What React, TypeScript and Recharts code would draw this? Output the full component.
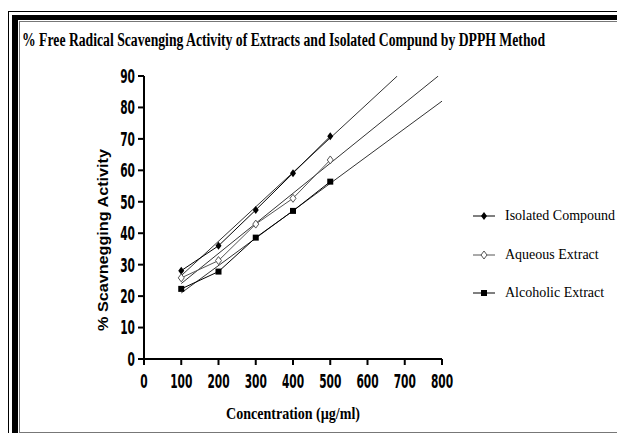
import { ComposedChart, Line, XAxis, YAxis, Label } from 'recharts';

const xTicks = [0, 100, 200, 300, 400, 500, 600, 700, 800];
const yTicks = [0, 10, 20, 30, 40, 50, 60, 70, 80, 90];

const concentrations = [100, 200, 300, 400, 500];
const isolatedValues = [28.1, 36.0, 47.4, 59.1, 70.8];
const aqueousValues = [25.8, 31.3, 42.9, 51.1, 63.3];
const alcoholicValues = [22.3, 27.8, 38.6, 47.1, 56.4];

// straight trend lines: start and end
const isolatedFit = { x: [100, 680], y: [26.5, 90] };
const aqueousFit = { x: [100, 790], y: [24.0, 90] };
const alcoholicFit = { x: [100, 800], y: [21.0, 82] };

const SERIES = [
  { name: 'Isolated Compound', values: isolatedValues, fit: isolatedFit, marker: 'diamond', color: '#000' },
  { name: 'Aqueous Extract', values: aqueousValues, fit: aqueousFit, marker: 'hollow', color: '#555' },
  { name: 'Alcoholic Extract', values: alcoholicValues, fit: alcoholicFit, marker: 'square', color: '#000' },
];

const toPoints = (xs: number[], ys: number[]) => xs.map((x, i) => ({ x, y: ys[i] }));

function Marker({ kind, cx, cy }: { kind: string; cx: number; cy: number }) {
  if (kind === 'square') return <rect x={cx - 3} y={cy - 3} width={6} height={6} fill="#000" />;
  if (kind === 'hollow')
    return <path d={`M${cx},${cy - 4}L${cx + 3},${cy}L${cx},${cy + 4}L${cx - 3},${cy}Z`} fill="#fff" stroke="#555" strokeWidth={1} />;
  return <path d={`M${cx},${cy - 4}L${cx + 3},${cy}L${cx},${cy + 4}L${cx - 3},${cy}Z`} fill="#000" />;
}

const tickStyle = { fontSize: 19, fontWeight: 700, fontFamily: '"Liberation Sans Narrow", "DejaVu Sans Condensed", sans-serif' };

// narrow, tall digits like the original
function NarrowTick({ x, y, payload, textAnchor, axis }: any) {
  const label = String(payload.value);
  return (
    <text x={x} y={y} dy={axis === 'x' ? '0.72em' : '0.36em'} textAnchor={textAnchor} fill="#000"
      textLength={label.length * 7.4} lengthAdjust="spacingAndGlyphs" style={tickStyle}>
      {label}
    </text>
  );
}

function XTitle({ viewBox }: any) {
  const cx = viewBox.x + viewBox.width / 2;
  return (
    <text x={cx} y={viewBox.y + 60} textAnchor="middle" textLength={134} lengthAdjust="spacingAndGlyphs"
      style={{ fontFamily: '"Liberation Serif", serif', fontWeight: 700, fontSize: 16 }}>
      Concentration (µg/ml)
    </text>
  );
}

function YTitle() {
  return (
    <text x={0} y={0} transform="translate(108,240) rotate(-90)" textAnchor="middle" textLength={182} lengthAdjust="spacingAndGlyphs"
      style={{ fontFamily: '"Liberation Sans", Arial, sans-serif', fontWeight: 700, fontSize: 14 }}>
      % Scavnegging Activity
    </text>
  );
}

function LegendBox() {
  return (
    <div style={{ position: 'absolute', left: 471, top: 197, width: 146, fontFamily: '"Liberation Serif", serif', fontSize: 14, color: '#000' }}>
      {SERIES.map((s) => (
        <div key={s.name} style={{ display: 'flex', alignItems: 'center', height: 38.5, whiteSpace: 'nowrap' }}>
          <svg width={32} height={12} style={{ marginRight: 2 }}>
            <line x1={2} y1={6} x2={24} y2={6} stroke={s.color} strokeWidth={1} />
            <Marker kind={s.marker} cx={13} cy={6} />
          </svg>
          <span>{s.name}</span>
        </div>
      ))}
    </div>
  );
}

export default function App() {
  return (
    <div style={{ position: 'absolute', left: 0, top: 0, width: 617, height: 433, background: '#fff', overflow: 'hidden' }}>
      <div style={{ position: 'absolute', left: 8, top: 11, width: 700, height: 500, borderLeft: '1px solid #000', borderTop: '1px solid #000' }} />
      <div style={{ position: 'absolute', left: 12, top: 15, width: 700, height: 500, borderLeft: '6px solid #000', borderTop: '5px solid #000' }} />
      <div style={{ position: 'absolute', left: 19, top: 21, width: 700, height: 410, borderLeft: '1px solid #777', borderTop: '1px solid #777', borderBottom: '1px solid #777' }} />
      <svg width={617} height={60} style={{ position: 'absolute', left: 0, top: 0 }}>
        <text x={22} y={46} textLength={523} lengthAdjust="spacingAndGlyphs"
          style={{ fontFamily: '"Liberation Serif", serif', fontWeight: 700, fontSize: 18 }}>
          % Free Radical Scavenging Activity of Extracts and Isolated Compund by DPPH Method
        </text>
      </svg>
      <div style={{ position: 'absolute', left: 0, top: 0 }}>
        <ComposedChart width={617} height={433} margin={{ top: 76, right: 175, bottom: 24, left: 84 }}>
          <XAxis type="number" dataKey="x" domain={[0, 800]} ticks={xTicks} interval={0} allowDataOverflow
            axisLine={{ stroke: '#000', strokeWidth: 2 }} tickLine={{ stroke: '#000', strokeWidth: 2 }}
            tickSize={6} tickMargin={9} tick={<NarrowTick axis="x" />} height={50}>
            <Label content={<XTitle />} />
          </XAxis>
          <YAxis type="number" domain={[0, 90]} ticks={yTicks} interval={0} allowDataOverflow
            axisLine={{ stroke: '#000', strokeWidth: 2 }} tickLine={{ stroke: '#000', strokeWidth: 2 }}
            tickSize={6} tickMargin={3} tick={<NarrowTick axis="y" />} width={60}>
            <Label content={<YTitle />} />
          </YAxis>
          {SERIES.map((s) => (
            <Line key={s.name + '-fit'} data={toPoints(s.fit.x, s.fit.y)} dataKey="y" type="linear" stroke="#333"
              strokeWidth={1} dot={false} activeDot={false} legendType="none" isAnimationActive={false} />
          ))}
          {SERIES.map((s) => (
            <Line key={s.name} name={s.name} data={toPoints(concentrations, s.values)} dataKey="y" type="linear"
              stroke={s.color} strokeWidth={1} activeDot={false} isAnimationActive={false}
              dot={(p: any) => <Marker key={p.index} kind={s.marker} cx={p.cx} cy={p.cy} />} />
          ))}
        </ComposedChart>
      </div>
      <LegendBox />
    </div>
  );
}
